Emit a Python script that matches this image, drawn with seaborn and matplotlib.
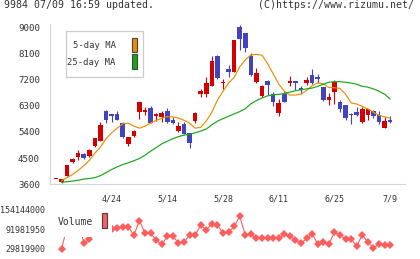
import numpy as np
import seaborn as sns
import matplotlib
matplotlib.use("Agg")
import matplotlib.pyplot as plt
from matplotlib.patches import Rectangle

# daily candles, index -1 is the doji cut at the left edge
day_idx = list(range(-1, 60))
opens = [3783, 3680, 3885, 4367, 4528, 4642, 4573, 4917, 5090, 6121, 6018,
         6018, 5697, 4976, 5261, 6097, 6097, 6224, 5949, 5915, 6121,
         5811, 5433, 5674, 5354, 5777, 6695, 6718, 6991, 8013, 7084,
         7565, 7461, 9011, 8804, 8013, 7118, 6637, 7153, 6715, 6052,
         6715, 7084, 7153, 6912, 7084, 7359, 7290, 6946, 6500, 6775,
         6430, 6327, 6018, 6087, 5743, 5983, 6121, 5983, 5536, 5811]
highs = [3783, 3783, 4264, 4515, 4780, 4680, 4820, 5192, 5730, 6155, 6018,
         6121, 5732, 5216, 5467, 6430, 6258, 6292, 6064, 6121, 6224,
         5925, 5743, 5743, 5354, 6097, 6878, 7290, 8029, 8047, 7221,
         7703, 8564, 9080, 8804, 8116, 7600, 7015, 7187, 6784, 6533,
         6808, 7324, 7153, 6970, 7290, 7565, 7393, 6946, 6740, 7187,
         6500, 6327, 6052, 6258, 6258, 6190, 6155, 6121, 5915, 5949]
lows = [3783, 3645, 3885, 4343, 4420, 4470, 4540, 4880, 5090, 5697, 5732,
        5811, 5200, 4917, 5216, 5846, 5983, 5708, 5777, 5753, 5697,
        5674, 5388, 5330, 4860, 5697, 6615, 6615, 6991, 7221, 6878,
        7290, 7461, 8220, 8151, 7324, 7084, 6603, 6672, 6293, 5949,
        6440, 6980, 6843, 6705, 7015, 7050, 7084, 6465, 6327, 6362,
        6097, 5811, 5674, 5949, 5708, 5811, 5880, 5674, 5536, 5708]
closes = [3783, 3783, 4264, 4470, 4687, 4505, 4780, 5192, 5640, 5822, 5960,
          5811, 5226, 5216, 5443, 6430, 6155, 5708, 6007, 6064, 5743,
          5708, 5605, 5330, 5032, 6052, 6810, 7084, 7838, 7266, 7118,
          7461, 8564, 8598, 8288, 7359, 7427, 6980, 7015, 6440, 6396,
          6440, 7153, 7084, 6843, 7187, 7084, 7221, 6500, 6603, 7118,
          6190, 5880, 5983, 5983, 6190, 6190, 5949, 5743, 5777, 5743]

ma_idx = list(range(0, 60))
ma5 = [3724, 3830, 3940, 4080, 4240, 4420, 4670, 4880, 5170, 5370,
       5530, 5680, 5700, 5600, 5530, 5600, 5710, 5800, 5870, 5930,
       5920, 5880, 5800, 5700, 5530, 5560, 5780, 6080, 6500, 6800,
       7080, 7280, 7640, 7880, 8050, 8070, 8040, 7750, 7400, 7050,
       6800, 6670, 6670, 6700, 6830, 6990, 7090, 7050, 6930, 6920,
       6900, 6700, 6400, 6360, 6280, 6190, 6080, 5970, 5920, 5880]
ma25 = [3669, 3690, 3710, 3740, 3780, 3800, 3830, 3900, 4000, 4110,
        4200, 4280, 4340, 4410, 4490, 4600, 4740, 4860, 4990, 5080,
        5170, 5240, 5290, 5320, 5370, 5430, 5500, 5650, 5770, 5860,
        5940, 6020, 6100, 6200, 6370, 6480, 6570, 6640, 6680, 6690,
        6720, 6770, 6820, 6850, 6880, 6910, 6970, 7040, 7110, 7128,
        7128, 7110, 7080, 7040, 6970, 6940, 6880, 6800, 6700, 6533]

volume = [28.8e6, 100e6, 118e6, 125e6, 47.4e6, 59.9e6, 90e6, 95e6, 100e6, 92e6,
          96.1e6, 98.2e6, 98.2e6, 73.3e6, 118.9e6, 79.5e6, 79.5e6, 56.8e6, 44.3e6, 69.2e6,
          69.2e6, 49.5e6, 51.6e6, 73.3e6, 73.3e6, 104.4e6, 89.9e6, 108.6e6, 104.4e6, 79.5e6,
          81.6e6, 100.3e6, 132.4e6, 73.3e6, 75.4e6, 63.0e6, 63.0e6, 65.0e6, 65.0e6, 63.0e6,
          75.4e6, 69.2e6, 58.8e6, 47.4e6, 63.0e6, 77.5e6, 45.4e6, 51.6e6, 45.4e6, 81.6e6,
          73.3e6, 60.9e6, 60.9e6, 39.1e6, 73.3e6, 51.6e6, 32.9e6, 45.4e6, 41.2e6, 41.2e6]

price_ticks = [3600, 4500, 5400, 6300, 7200, 8100, 9000]
vol_ticks = [29819900, 91981950, 154144000]
date_pos = [9, 19, 29, 39, 49, 59]
date_labels = ["4/24", "5/14", "5/28", "6/11", "6/25", "7/9"]

UP = "#d40000"
DOWN = "#4343c0"
ORANGE = "#f08c00"
GREEN = "#14a814"
VOLC = "#ff5c5c"
AXC = "#d4d4d4"
TXT = "#333333"
MONO = "DejaVu Sans Mono"

sns.set_style("white")
plt.rcParams["font.family"] = [MONO]

W, H = 420, 259
fig = plt.figure(figsize=(W / 100, H / 100), dpi=100)


def fx(x):
    return x / W


def fy(y):
    return 1 - y / H


x0, x1 = (50 - 61.5) / 5.57, (405 - 61.5) / 5.57

ax = fig.add_axes([fx(50), fy(184.3), (405 - 50) / W, (184.3 - 24) / H])
colors = [UP if c >= o else DOWN for o, c in zip(opens, closes)]
ax.vlines(day_idx, lows, highs, colors=colors, lw=0.8, zorder=2)
body_low = [min(o, c) for o, c in zip(opens, closes)]
body_h = [max(abs(c - o), 30) for o, c in zip(opens, closes)]
ax.bar(day_idx, body_h, bottom=body_low, width=0.82, color=colors, lw=0, zorder=3)
sns.lineplot(x=ma_idx, y=ma5, ax=ax, color=ORANGE, lw=0.85, zorder=4)
sns.lineplot(x=ma_idx, y=ma25, ax=ax, color=GREEN, lw=0.85, zorder=4)

ax.set_xlim(x0, x1)
ax.set_ylim(3600, 3600 + (184.3 - 24) * 34.39)
ax.set_yticks(price_ticks)
ax.set_yticklabels([str(t) for t in price_ticks])
ax.set_xticks(date_pos)
ax.set_xticklabels(date_labels)
ax.set_xticks(np.linspace(x0, x1, 12), minor=True)
ax.tick_params(axis="y", direction="inout", length=5.8, width=0.8, color=AXC,
               labelsize=6.6, labelcolor=TXT, pad=4.3)
ax.tick_params(axis="x", which="major", length=0, labelsize=6.0, labelcolor=TXT, pad=7)
ax.tick_params(axis="x", which="minor", direction="out", length=3.6, width=0.8, color=AXC)
for s in ["top", "right"]:
    ax.spines[s].set_visible(False)
for s in ["left", "bottom"]:
    ax.spines[s].set_color(AXC)
    ax.spines[s].set_linewidth(0.8)
ax.set_xlabel("")
ax.set_ylabel("")

# volume panel
vax = fig.add_axes([fx(50), fy(252), (405 - 50) / W, 46 / H])
sns.lineplot(x=ma_idx, y=volume, ax=vax, color=VOLC, lw=0.8, marker="D",
             markersize=4.0, markeredgewidth=0)
vax.set_xlim(x0, x1)
vax.set_ylim(29819900 - 3 * 3.1316e6, 154144000 + 3.3 * 3.1316e6)
vax.set_yticks(vol_ticks)
vax.set_yticklabels([str(t) for t in vol_ticks])
vax.set_xticks([])
vax.tick_params(axis="y", length=0, labelsize=6.0, labelcolor=TXT, pad=3.6)
for s in vax.spines.values():
    s.set_visible(False)
vax.set_xlabel("")
vax.set_ylabel("")

# legend box for moving averages
fig.add_artist(Rectangle((fx(65.7), fy(77.3)), (143.3 - 65.7) / W, (77.3 - 30.7) / H,
                         transform=fig.transFigure, facecolor="white", edgecolor="#cccccc", lw=0.9))
fig.text(fx(115.5), fy(46), "5-day MA", ha="right", va="center", size=6.4, color=TXT)
fig.text(fx(115.5), fy(62.5), "25-day MA", ha="right", va="center", size=6.4, color=TXT)
fig.add_artist(Rectangle((fx(131.7), fy(52.3)), 5.6 / W, 14.6 / H, transform=fig.transFigure,
                         facecolor=ORANGE, edgecolor="#444444", lw=0.8))
fig.add_artist(Rectangle((fx(131.7), fy(69)), 5.6 / W, 14.6 / H, transform=fig.transFigure,
                         facecolor=GREEN, edgecolor="#444444", lw=0.8))

# volume legend, covers the line behind it
fig.add_artist(Rectangle((fx(57), fy(237)), 55 / W, 31 / H, transform=fig.transFigure,
                         facecolor="white", edgecolor="none"))
fig.text(fx(58), fy(222), "Volume", ha="left", va="center", size=7.0, color=TXT)
fig.add_artist(Rectangle((fx(101.7), fy(228)), 5.6 / W, 15 / H, transform=fig.transFigure,
                         facecolor=VOLC, edgecolor="#444444", lw=0.8))

fig.text(fx(4), fy(5.5), "9984 07/09 16:59 updated.", ha="left", va="center", size=7.1, color=TXT)
fig.text(fx(414), fy(5.5), "(C)https://www.rizumu.net/", ha="right", va="center", size=7.1, color=TXT)

fig.savefig("out.png", dpi=100)
